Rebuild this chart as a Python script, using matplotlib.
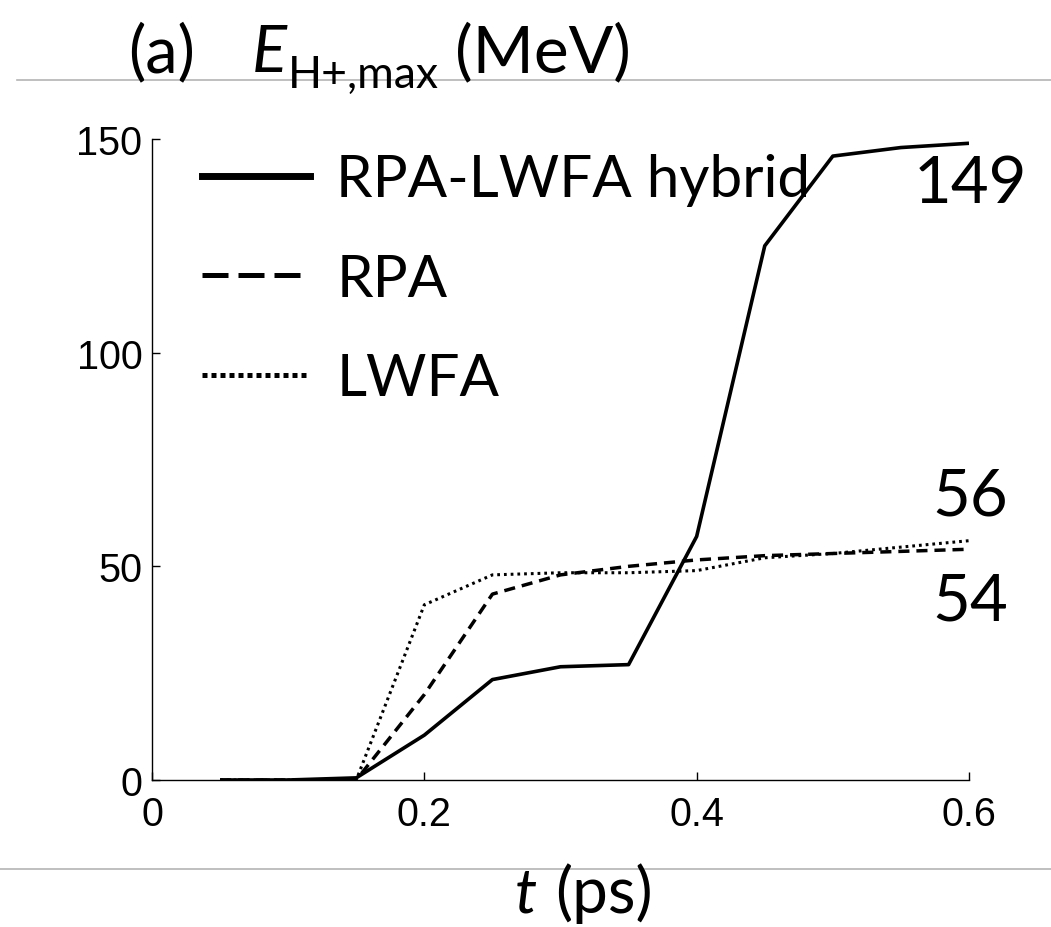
import matplotlib
matplotlib.use("Agg")
import matplotlib.pyplot as plt
from matplotlib.lines import Line2D

# time axis (ps)
t = [0.05, 0.10, 0.15, 0.20, 0.25, 0.30, 0.35, 0.40, 0.45, 0.50, 0.55, 0.60]

# max proton energy (MeV)
hybrid = [0.0, 0.0, 0.5, 10.5, 23.5, 26.5, 27.0, 57.0, 125.0, 146.0, 148.0, 149.0]
rpa = [0.0, 0.0, 0.0, 20.0, 43.5, 48.0, 50.0, 51.5, 52.5, 53.0, 53.5, 54.0]
lwfa = [0.0, 0.0, 0.0, 41.0, 48.0, 48.5, 48.5, 49.0, 52.0, 53.0, 54.5, 56.0]

labels = ["RPA-LWFA hybrid", "RPA", "LWFA"]
end_labels = ["149", "56", "54"]
end_label_y = [139.5, 66.5, 42.0]

xticks = [0, 0.2, 0.4, 0.6]
xticklabels = ["0", "0.2", "0.4", "0.6"]
yticks = [0, 50, 100, 150]

W, H = 1051, 928
fig = plt.figure(figsize=(W / 100, H / 100), dpi=100)
ax = fig.add_axes([152 / W, 1 - 781 / H, (969 - 152) / W, (781 - 140) / H])

ax.plot(t, lwfa, color="black", lw=2.2, dashes=(0.9, 1.3))
ax.plot(t, rpa, color="black", lw=2.5, dashes=(3.2, 2.0))
ax.plot(t, hybrid, color="black", lw=2.6, solid_capstyle="butt")

ax.set_xlim(0, 0.6)
ax.set_ylim(0, 150)
ax.set_xticks(xticks)
ax.set_xticklabels(xticklabels)
ax.set_yticks(yticks)

for side in ["top", "right"]:
    ax.spines[side].set_visible(False)
for side in ["left", "bottom"]:
    ax.spines[side].set_linewidth(1.0)

ax.tick_params(direction="in", length=6, width=1.0, labelsize=28.5)
ax.tick_params(axis="x", pad=11)
ax.tick_params(axis="y", pad=7)
for lab in ax.get_xticklabels() + ax.get_yticklabels():
    lab.set_family("Liberation Sans")

# end value labels
for txt, yv in zip(end_labels, end_label_y):
    ax.text(0.601, yv, txt, fontsize=47, family="Lato",
            ha="center", va="center", clip_on=False)

handles = [
    Line2D([], [], color="black", lw=5),
    Line2D([], [], color="black", lw=3.6, dashes=(5.2, 2.0)),
    Line2D([], [], color="black", lw=3.6, dashes=(1.0, 0.8)),
]
ax.legend(handles, labels, loc="upper left",
          bbox_to_anchor=((202 - 152) / 817, (781 - 154) / 641),
          frameon=False, prop={"family": "Lato", "size": 42},
          handlelength=1.85, handletextpad=0.45, labelspacing=0.8,
          borderpad=0, borderaxespad=0)

# title pieces
fig.text(128 / W, 1 - 72 / H, "(a)", fontsize=47, family="Lato",
         ha="left", va="baseline")
fig.text(252 / W, 1 - 72 / H, "E", fontsize=47, family="Lato",
         style="italic", ha="left", va="baseline")
fig.text(288 / W, 1 - 88 / H, "H+,max", fontsize=32, family="Lato",
         ha="left", va="baseline")
fig.text(455 / W, 1 - 72 / H, "(MeV)", fontsize=47.5, family="Lato",
         ha="left", va="baseline")

# x label
fig.text(515 / W, 1 - 913 / H, "t", fontsize=45, family="Lato",
         style="italic", ha="left", va="baseline")
fig.text(555 / W, 1 - 913 / H, "(ps)", fontsize=46, family="Lato",
         ha="left", va="baseline")

# thin gray separators
fig.add_artist(Line2D([17 / W, 1], [1 - 81 / H, 1 - 81 / H],
                      color="#b4b4b4", lw=1.2, transform=fig.transFigure))
fig.add_artist(Line2D([0, 1], [1 - 870 / H, 1 - 870 / H],
                      color="#b4b4b4", lw=1.2, transform=fig.transFigure))

fig.savefig("out.png", dpi=100)
